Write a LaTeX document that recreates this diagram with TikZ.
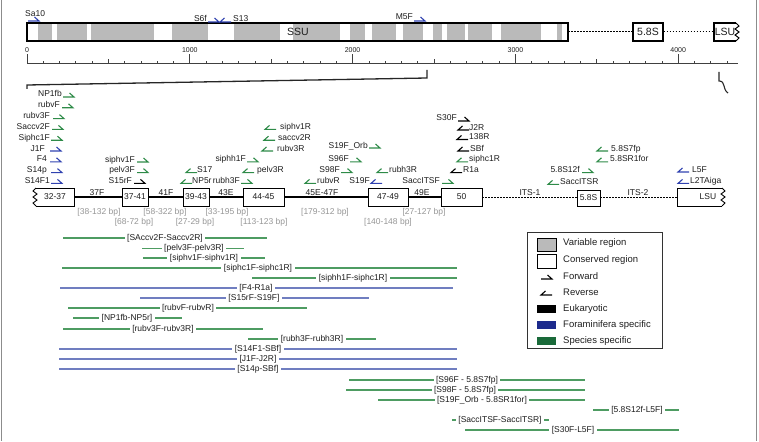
\documentclass[tikz,border=0pt]{standalone}
\usepackage{fontspec}
\setmainfont{Liberation Sans}
\definecolor{pgreen}{RGB}{46,139,72}
\definecolor{pblue}{RGB}{48,66,176}
\definecolor{agreen}{RGB}{78,156,98}
\definecolor{ablue}{RGB}{112,126,192}
\definecolor{lgreen}{RGB}{26,106,58}
\definecolor{lblue}{RGB}{28,42,140}
\definecolor{vgray}{RGB}{186,186,186}
\definecolor{bpgray}{RGB}{150,150,150}
\definecolor{txt}{RGB}{30,30,30}
\tikzset{
  pl/.style={inner sep=0pt, text=txt, font=\fontsize{8.5}{9}\selectfont},
  harp/.style={line width=1.1pt, line join=miter},
  seglbl/.style={inner sep=0.5pt, anchor=south, text=txt, font=\fontsize{8.5}{9}\selectfont},
  boxlbl/.style={inner sep=0pt, text=txt, font=\fontsize{8.5}{9}\selectfont},
  bplbl/.style={inner sep=0pt, text=bpgray, font=\fontsize{8.5}{9}\selectfont},
  amplbl/.style={fill=white, inner xsep=2.5pt, inner ysep=0.5pt, text=txt, font=\fontsize{8.5}{9}\selectfont},
  ampg/.style={draw=agreen, line width=1.2pt},
  ampb/.style={draw=ablue, line width=1.2pt},
  regbox/.style={draw=black, line width=0.9pt, fill=white},
  axis/.style={draw=black!75, line width=0.7pt},
  legtxt/.style={inner sep=0pt, anchor=west, text=txt, font=\fontsize{9.5}{10}\selectfont},
  dotline/.style={line width=1pt, dash pattern=on 1.5pt off 1.5pt},
}
\newcommand\FwdH[3]{\draw[harp,#3] (#1,#2) -- ({#1+11},#2) -- ({#1+6.5},{#2-4});}
\newcommand\RevH[3]{\draw[harp,#3] ({#1+11},#2) -- (#1,#2) -- ({#1+4.5},{#2-4});}
\newcommand\PF[6]{\node[pl,anchor=base east] (#1) at (#3,#4) {#2};\FwdH{#5}{#4}{#6}}
\newcommand\PR[6]{\RevH{#3}{#4}{#6}\node[pl,anchor=base west] (#1) at (#5,#4) {#2};}
\newcommand\Amp[7]{\coordinate (#1s) at (#2,#4);\coordinate (#1e) at (#3,#4);\draw[#6] (#1s) -- (#1e);\node[amplbl] (#1) at (#5,#4) {#7};}
\begin{document}
\begin{tikzpicture}[x=1pt,y=-1pt]
\useasboundingbox (0,0) rectangle (759,441);
% frame
\draw[black!45, line width=1pt] (1,0) -- (1,441);
\draw[black!45, line width=1pt] (756,0) -- (756,441);

% ---------- top SSU bar ----------
\foreach \a/\b in {38/52,57/87,91/154,172/208,234/280,293/340,350/365,372/396,403/423,433/442,447/465,468/492,501/541,557/562}
  \fill[vgray] (\a,23) rectangle (\b,41);
\draw[line width=1.3pt] (27,23) rectangle (568,41);
\node[inner sep=0pt, text=txt, font=\fontsize{10.5}{11}\selectfont] (ssu) at (298,32) {SSU};
\node[draw, line width=1.1pt, minimum width=30pt, minimum height=18pt, inner sep=0pt, font=\fontsize{10.5}{11}\selectfont, text=txt] (s58top) at (648,32) {5.8S};
\coordinate (ssuE) at (568,32);
\coordinate (lsuW) at (714,32);
\draw[dotline] (ssuE) -- (s58top.west);
\draw[dotline] (s58top.east) -- (lsuW);
\draw[line width=1.1pt] (736,23) -- (714,23) -- (714,41) -- (736,41);
\draw[line width=1pt] (736,23) -- (739,26) -- (735,29) -- (739,32) -- (735,35) -- (739,38) -- (736,41);
\node[inner sep=0pt, text=txt, font=\fontsize{10.5}{11}\selectfont] (lsutop) at (725,32) {LSU};

% top primers
\node[pl,anchor=base west] (Sa10) at (25,17) {Sa10};
\FwdH{28}{21}{pblue}
\node[pl,anchor=base east] (S6f) at (207,22) {S6f};
\FwdH{208}{22}{pblue}
\RevH{220}{22}{pblue}
\node[pl,anchor=base west] (S13) at (233,22) {S13};
\node[pl,anchor=base east] (M5F) at (413,20) {M5F};
\FwdH{414}{21}{pblue}

% ---------- scale ----------
\draw[axis] (27,63) -- (738,63);
\foreach \i in {0,...,43}{
  \pgfmathtruncatemacro\m{mod(\i,10)}
  \pgfmathtruncatemacro\h{mod(\i,5)}
  \ifnum\m=0 \def\tl{9}\else\ifnum\h=0 \def\tl{4}\else\def\tl{2}\fi\fi
  \draw[axis] ({27+16.28*\i},63) -- ++(0,-\tl);
}
\foreach \n/\xx in {0/27,1000/189.8,2000/352.6,3000/515.4,4000/678.2}
  \node[inner sep=0pt, text=txt, font=\fontsize{7}{8}\selectfont] at (\xx,50) {\n};

% expansion lines
\draw[black!85, line width=1.3pt] (27,89) -- (27,85) -- (427,78) -- (427,70);
\draw[black!85, line width=1.1pt] (719,72) -- (719,81) .. controls (726,81) and (722,89) .. (728,93);

% ---------- detailed region ----------
\coordinate (mlw) at (74,197);
\coordinate (mle) at (441,197);
\draw[line width=1.2pt] (mlw) -- (mle);
\draw[dotline] (482,197) -- (577,197);
\draw[dotline] (600,197) -- (677,197);
% box 32-37 with zigzag left edge
\fill[white] (36,188) rectangle (74,206);
\draw[line width=0.9pt] (36,188) -- (74,188) -- (74,206) -- (36,206);
\draw[line width=0.9pt] (36,188) -- (33,191) -- (37,194) -- (33,197) -- (37,200) -- (33,203) -- (36,206);
\node[boxlbl] (b3237) at (55,197) {32-37};
\node[regbox, minimum width=26pt, minimum height=18pt, inner sep=0pt, boxlbl, draw] (b3741) at (135,197) {37-41};
\node[regbox, minimum width=26pt, minimum height=18pt, inner sep=0pt, boxlbl, draw] (b3943) at (196,197) {39-43};
\node[regbox, minimum width=41pt, minimum height=18pt, inner sep=0pt, boxlbl, draw] (b4445) at (263.5,197) {44-45};
\node[regbox, minimum width=40pt, minimum height=18pt, inner sep=0pt, boxlbl, draw] (b4749) at (388,197) {47-49};
\node[regbox, minimum width=41pt, minimum height=18pt, inner sep=0pt, boxlbl, draw] (b50) at (461.5,197) {50};
\node[regbox, minimum width=23pt, minimum height=16pt, inner sep=0pt, boxlbl, draw] (b58) at (588.5,198) {5.8S};
% LSU detailed
\fill[white] (677,188) rectangle (722,206);
\draw[line width=0.9pt] (722,188) -- (677,188) -- (677,206) -- (722,206);
\draw[line width=0.9pt] (722,188) -- (725,191) -- (721,194) -- (725,197) -- (721,200) -- (725,203) -- (722,206);
\node[boxlbl] (blsu) at (708,197) {LSU};

% segment labels
\node[seglbl] (s37F) at (97,196.5) {37F};
\node[seglbl] (s41F) at (166,196.5) {41F};
\node[seglbl] (s43E) at (226,196.5) {43E};
\node[seglbl] (s4547) at (322,196.5) {45E-47F};
\node[seglbl] (s49E) at (422,196.5) {49E};
\node[seglbl] (its1) at (530,196.5) {ITS-1};
\node[seglbl] (its2) at (638,196.5) {ITS-2};

% bp labels
\node[bplbl] (bp1) at (99,212) {[38-132 bp]};
\node[bplbl] (bp2) at (165,212) {[58-322 bp]};
\node[bplbl] (bp3) at (227,212) {[33-195 bp]};
\node[bplbl] (bp4) at (325,212) {[179-312 bp]};
\node[bplbl] (bp5) at (424,212) {[27-127 bp]};
\node[bplbl] (bp6) at (134,222) {[68-72 bp]};
\node[bplbl] (bp7) at (195,222) {[27-29 bp]};
\node[bplbl] (bp8) at (264,222) {[113-123 bp]};
\node[bplbl] (bp9) at (388,222) {[140-148 bp]};

% ---------- primers (detailed) ----------
% left stack
\PF{pNP1fb}{NP1fb}{62}{97}{63}{pgreen}
\PF{prubvF}{rubvF}{60}{107.8}{62}{pgreen}
\PF{prubv3F}{rubv3F}{50}{118.6}{53}{pgreen}
\PF{pSaccv2F}{Saccv2F}{50}{129.4}{52}{pgreen}
\PF{pSiphc1F}{Siphc1F}{50}{140.2}{51}{pgreen}
\PF{pJ1F}{J1F}{45}{151}{50}{pblue}
\PF{pF4}{F4}{47}{161.8}{50}{pblue}
\PF{pS14p}{S14p}{47}{172.6}{51}{pblue}
\PF{pS14F1}{S14F1}{50}{183.4}{51}{pblue}
% middle
\PF{psiphv1F}{siphv1F}{135}{162}{137}{pgreen}
\PF{ppelv3F}{pelv3F}{135}{172.6}{137}{pgreen}
\PF{pS15rF}{S15rF}{132}{183.4}{134}{black}
\PR{pS17}{S17}{186}{172.6}{197}{pgreen}
\PR{pNP5r}{NP5r}{181}{183.4}{192}{pgreen}
\PF{prubh3F}{rubh3F}{240}{183.4}{241}{pgreen}
\PF{psiphh1F}{siphh1F}{246}{161.8}{247}{pgreen}
\PR{ppelv3R}{pelv3R}{243}{172.6}{257}{pgreen}
\PR{psiphv1R}{siphv1R}{265}{129.4}{280}{pgreen}
\PR{psaccv2R}{saccv2R}{264}{140.2}{278}{pgreen}
\PR{prubv3R}{rubv3R}{262}{151}{277}{pgreen}
\PF{pS19FOrb}{S19F\_Orb}{368}{148}{369}{pgreen}
\PF{pS96F}{S96F}{349}{161.8}{350}{pgreen}
\PF{pS98F}{S98F}{340}{172.6}{341}{pgreen}
\PR{prubvR}{rubvR}{305}{183.4}{317}{pgreen}
\node[pl,anchor=base east] (pS19F) at (370,183.4) {S19F};
\RevH{371}{183.4}{pblue}
\PR{prubh3R}{rubh3R}{377}{172.6}{389}{pgreen}
\PF{pSaccITSF}{SaccITSF}{440}{183.4}{442}{pgreen}
% right cluster
\PF{pS30F}{S30F}{457}{121}{458}{black}
\PR{pJ2R}{J2R}{458}{130}{469}{black}
\PR{p138R}{138R}{457}{139.5}{469}{black}
\PR{pSBf}{SBf}{458}{151}{470}{black}
\PR{psiphc1R}{siphc1R}{457}{161.8}{469}{pgreen}
\PR{pR1a}{R1a}{451}{172.6}{463}{black}
\PR{p58S7fp}{5.8S7fp}{597}{151}{611}{pgreen}
\PR{p58SR1for}{5.8SR1for}{597}{161.8}{610}{pgreen}
\PF{p58S12f}{5.8S12f}{580}{172.6}{582}{pgreen}
\PR{pSaccITSR}{SaccITSR}{548}{184.4}{560}{pgreen}
\PR{pL5F}{L5F}{678}{172}{692}{pblue}
\PR{pL2TAiga}{L2TAiga}{678}{183.4}{690}{pblue}

% ---------- legend ----------
\draw[line width=0.9pt, draw=black!80] (527,232) rectangle (662,348);
\draw[fill=vgray, line width=0.8pt] (537,238) rectangle (556,251);
\draw[fill=white, line width=0.8pt] (537,254) rectangle (556,268);
\FwdH{541}{279}{black}
\RevH{541}{295}{black}
\fill[black] (537,305) rectangle (556,313);
\fill[lblue] (537,321) rectangle (556,329);
\fill[lgreen] (537,337) rectangle (556,345);
\node[legtxt] (lg1) at (563,243.5) {Variable region};
\node[legtxt] (lg2) at (563,260) {Conserved region};
\node[legtxt] (lg3) at (563,276.5) {Forward};
\node[legtxt] (lg4) at (563,292.5) {Reverse};
\node[legtxt] (lg5) at (563,309) {Eukaryotic};
\node[legtxt] (lg6) at (563,325) {Foraminifera specific};
\node[legtxt] (lg7) at (563,341) {Species specific};

% ---------- amplicons ----------
\Amp{a1}{63}{267}{238}{165}{ampg}{[SAccv2F-Saccv2R]}
\Amp{a2}{142}{244}{248.5}{194}{ampg}{[pelv3F-pelv3R]}
\Amp{a3}{143}{265}{258}{204}{ampg}{[siphv1F-siphv1R]}
\Amp{a4}{62}{457}{268}{258}{ampg}{[siphc1F-siphc1R]}
\Amp{a5}{252}{457}{278}{353}{ampg}{[siphh1F-siphc1R]}
\Amp{a6}{60}{453}{288}{256}{ampb}{[F4-R1a]}
\Amp{a7}{140}{369}{298}{254}{ampb}{[S15rF-S19F]}
\Amp{a8}{68}{307}{308}{188}{ampg}{[rubvF-rubvR]}
\Amp{a9}{73}{182}{318}{127}{ampg}{[NP1fb-NP5r]}
\Amp{a10}{63}{263}{329}{163}{ampg}{[rubv3F-rubv3R]}
\Amp{a11}{248}{376}{339}{312}{ampg}{[rubh3F-rubh3R]}
\Amp{a12}{59}{457}{349}{258}{ampb}{[S14F1-SBf]}
\Amp{a13}{59}{457}{359}{258}{ampb}{[J1F-J2R]}
\Amp{a14}{59}{457}{369}{258}{ampb}{[S14p-SBf]}
\Amp{a15}{349}{585}{380}{467}{ampg}{[S96F - 5.8S7fp]}
\Amp{a16}{346}{585}{390}{465}{ampg}{[S98F - 5.8S7fp]}
\Amp{a17}{378}{585}{400}{482}{ampg}{[S19F\_Orb - 5.8SR1for]}
\Amp{a18}{593}{679}{410}{637}{ampg}{[5.8S12f-L5F]}
\Amp{a19}{452}{549}{420}{500}{ampg}{[SaccITSF-SaccITSR]}
\Amp{a20}{465}{679}{430}{573}{ampg}{[S30F-L5F]}
\end{tikzpicture}
\end{document}
